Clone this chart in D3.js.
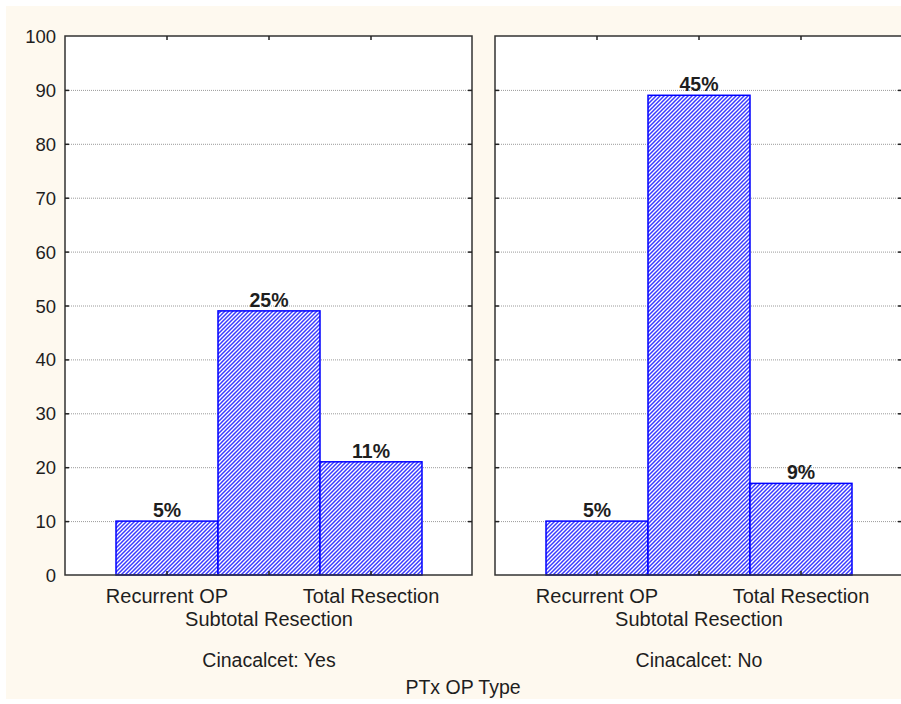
<!DOCTYPE html>
<html>
<head>
<meta charset="utf-8">
<script src="https://cdn.jsdelivr.net/npm/d3@7"></script>
<style>
  html, body { margin: 0; padding: 0; background: #ffffff; }
  svg { display: block; }
  text { font-family: "Liberation Sans", Arial, sans-serif; fill: #1e1e1e; }
</style>
</head>
<body>
<svg id="chart" width="901" height="704"></svg>
<script>
// PTx operation type counts, split by Cinacalcet treatment
const categories = ["Recurrent OP", "Subtotal Resection", "Total Resection"];
const groups = ["Cinacalcet: Yes", "Cinacalcet: No"];
const countsYes = [10, 49, 21];
const countsNo = [10, 89, 17];
const yTicks = [0, 10, 20, 30, 40, 50, 60, 70, 80, 90, 100];
const axisTitle = "PTx OP Type";

const panelData = [countsYes, countsNo];
const total = d3.sum(countsYes) + d3.sum(countsNo);

const svg = d3.select("#chart");
const W = 901, H = 704;

// cream page background
svg.append("rect").attr("x", 6).attr("y", 6).attr("width", W - 6).attr("height", 693)
  .attr("fill", "#fef9ef");

// diagonal hatch for bars
const defs = svg.append("defs");
const pat = defs.append("pattern")
  .attr("id", "hatch").attr("patternUnits", "userSpaceOnUse")
  .attr("width", 4).attr("height", 4);
pat.append("rect").attr("width", 4).attr("height", 4).attr("fill", "#ffffff");
pat.append("path")
  .attr("d", "M-1,1 L1,-1 M0,4 L4,0 M3,5 L5,3")
  .attr("stroke", "#3b3bff").attr("stroke-width", 1.5);

const plotTop = 36, plotBottom = 575;
const panels = [{ x0: 65, x1: 472, span: 408 }, { x0: 495, x1: 902, span: 408 }];
const y = d3.scaleLinear().domain([0, 100]).range([plotBottom, plotTop]);

panels.forEach((p, pi) => {
  const counts = panelData[pi];
  const x = d3.scaleLinear().domain([0, categories.length + 1]).range([p.x0, p.x0 + p.span]);
  const g = svg.append("g");

  // plot area
  g.append("rect").attr("x", p.x0).attr("y", plotTop)
    .attr("width", p.x1 - p.x0).attr("height", plotBottom - plotTop).attr("fill", "#ffffff");

  // dotted grid
  g.selectAll("line.grid").data(yTicks.filter(t => t > 0 && t < 100)).join("line")
    .attr("x1", p.x0).attr("x2", p.x1)
    .attr("y1", d => y(d) + 0.5).attr("y2", d => y(d) + 0.5)
    .attr("stroke", "#9a9a9a").attr("stroke-width", 1).attr("stroke-dasharray", "1,1");

  // bars
  g.selectAll("rect.bar").data(counts).join("rect")
    .attr("x", (d, i) => x(i + 0.5)).attr("width", (d, i) => x(i + 1.5) - x(i + 0.5))
    .attr("y", d => y(d)).attr("height", d => y(0) - y(d))
    .attr("fill", "url(#hatch)").attr("stroke", "#0000ff").attr("stroke-width", 1.5);

  // percentage labels
  g.selectAll("text.pct").data(counts).join("text")
    .attr("x", (d, i) => x(i + 1)).attr("y", d => y(d) - 4)
    .attr("text-anchor", "middle").attr("font-size", 19.5).attr("font-weight", 700)
    .text(d => Math.round(d / total * 100) + "%");

  // frame
  g.append("rect").attr("x", p.x0).attr("y", plotTop)
    .attr("width", p.x1 - p.x0).attr("height", plotBottom - plotTop)
    .attr("fill", "none").attr("stroke", "#333333").attr("stroke-width", 1.5);

  // inward ticks on left and right borders
  const inner = yTicks.filter(t => t > 0 && t < 100);
  g.selectAll("line.tl").data(inner).join("line")
    .attr("x1", p.x0).attr("x2", p.x0 + 4).attr("y1", d => y(d) + 0.5).attr("y2", d => y(d) + 0.5)
    .attr("stroke", "#222").attr("stroke-width", 1.5);
  g.selectAll("line.tr").data(inner).join("line")
    .attr("x1", p.x1 - 4).attr("x2", p.x1).attr("y1", d => y(d) + 0.5).attr("y2", d => y(d) + 0.5)
    .attr("stroke", "#222").attr("stroke-width", 1.5);

  // inward ticks on top and bottom borders at category centres
  categories.forEach((c, i) => {
    g.append("line").attr("x1", x(i + 1)).attr("x2", x(i + 1))
      .attr("y1", plotTop).attr("y2", plotTop + 4).attr("stroke", "#222").attr("stroke-width", 1.5);
    g.append("line").attr("x1", x(i + 1)).attr("x2", x(i + 1))
      .attr("y1", plotBottom - 4).attr("y2", plotBottom).attr("stroke", "#222").attr("stroke-width", 1.5);
  });

  // category labels, staggered on two lines
  g.selectAll("text.cat").data(categories).join("text")
    .attr("x", (d, i) => x(i + 1)).attr("y", (d, i) => i % 2 === 0 ? 603 : 626)
    .attr("text-anchor", "middle").attr("font-size", 20)
    .text(d => d);

  // panel caption
  g.append("text").attr("x", x(2)).attr("y", 667)
    .attr("text-anchor", "middle").attr("font-size", 19.5).text(groups[pi]);

  // y axis labels on the first panel only
  if (pi === 0) {
    g.selectAll("text.ytick").data(yTicks).join("text")
      .attr("x", 56).attr("y", d => y(d) + 7)
      .attr("text-anchor", "end").attr("font-size", 18.5)
      .text(d => d);
  }
});

svg.append("text").attr("x", 463).attr("y", 694)
  .attr("text-anchor", "middle").attr("font-size", 19.5).text(axisTitle);
</script>
</body>
</html>
